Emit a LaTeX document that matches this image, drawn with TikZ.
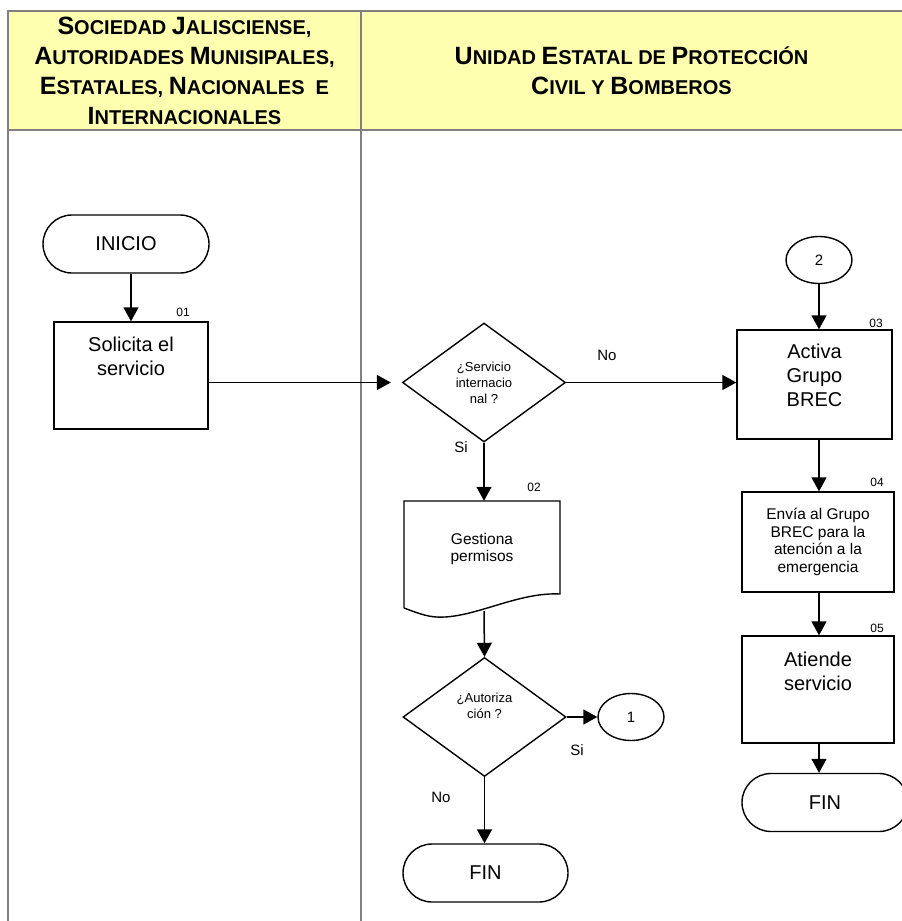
\documentclass[tikz,border=0pt]{standalone}
\usepackage{fontspec}
\setmainfont{Liberation Sans}
\usetikzlibrary{shapes.geometric,shapes.misc,arrows.meta}
\definecolor{hdr}{RGB}{255,255,176}
\definecolor{gridc}{RGB}{128,128,128}
\newcommand\BL[1]{{\fontsize{25}{30}\selectfont #1}}
\begin{document}
\begin{tikzpicture}[x=1pt,y=-1pt,
  lane/.style={draw=gridc,line width=2pt},
  box/.style={draw,line width=1.4pt,inner sep=0pt},
  term/.style={draw,rounded rectangle,line width=1.4pt,minimum width=166pt,minimum height=58pt,inner sep=0pt,font=\fontsize{20}{24}\selectfont},
  dec/.style={draw,diamond,line width=1.4pt,minimum width=163pt,minimum height=119pt,inner sep=0pt,align=center,font=\fontsize{13}{16}\selectfont},
  conn/.style={draw,ellipse,line width=1.4pt,minimum width=66pt,minimum height=47pt,inner sep=0pt,font=\fontsize{15}{18}\selectfont},
  bigtxt/.style={align=center,font=\fontsize{20}{24}\selectfont,anchor=north,inner sep=0pt},
  smalltxt/.style={align=center,font=\fontsize{15.5}{17.5}\selectfont,inner sep=0pt},
  num/.style={font=\fontsize{12}{14}\selectfont,inner sep=0pt},
  lbl/.style={font=\fontsize{15}{18}\selectfont,inner sep=0pt},
  arr/.style={line width=1.5pt,-{Triangle[length=14pt,width=15pt]}},
  hdrtxt/.style={align=center,font=\fontsize{20}{30}\selectfont\bfseries,inner sep=0pt}]
\useasboundingbox (0,0) rectangle (902,921);
% lanes
\fill[hdr] (8,11) rectangle (910,130);
\draw[lane] (910,11) -- (8,11) -- (8,925);
\draw[lane] (361,11) -- (361,925);
\draw[lane] (8,130) -- (910,130);
\node[hdrtxt] (h1) at (184.5,71) {\BL{S}OCIEDAD \BL{J}ALISCIENSE,\\ \BL{A}UTORIDADES \BL{M}UNISIPALES,\\ \BL{E}STATALES, \BL{N}ACIONALES\ \ E\\ \BL{I}NTERNACIONALES};
\node[hdrtxt] (h2) at (631.5,71) {\BL{U}NIDAD \BL{E}STATAL DE \BL{P}ROTECCIÓN\\ \BL{C}IVIL Y \BL{B}OMBEROS};
% nodes
\node[term] (ini) at (126,244) {INICIO};
\node[box,minimum width=154pt,minimum height=107pt] (b1) at (131,375.5) {};
\node[bigtxt] (t1) at ([yshift=-16pt]b1.north) {Solicita el\\servicio};
\node[num] (n1) at (183,312) {01};
\node[dec] (d1) at (484,382.5) {¿Servicio\\internacio\\nal ?};
\node[conn] (c2) at (819,260) {2};
\node[box,minimum width=155pt,minimum height=109pt] (b3) at (814.5,384.5) {};
\node[bigtxt] (t3) at ([yshift=-15pt]b3.north) {Activa\\Grupo\\BREC};
\node[num] (n3) at (876,323) {03};
\node[box,minimum width=152pt,minimum height=100pt] (b4) at (818,542) {};
\node[smalltxt] (t4) at (b4) {Envía al Grupo\\BREC para la\\atención a la\\emergencia};
\node[num] (n4) at (877,482) {04};
\node[box,minimum width=152pt,minimum height=107pt] (b5) at (818,689.5) {};
\node[bigtxt] (t5) at ([yshift=-16pt]b5.north) {Atiende\\servicio};
\node[num] (n5) at (877,628) {05};
\node[term] (fin2) at (825,802.5) {FIN};
% document
\node[minimum width=156pt,minimum height=107pt,inner sep=0pt] (doc) at (482,554.5) {};
\draw[line width=1.4pt] (404,608) -- (404,501) -- (560,501) -- (560,594)
  .. controls (520,592) and (480,615) .. (445,617)
  .. controls (430,618) and (420,614) .. (404,608);
\coordinate (docb) at (484,611);
\node[smalltxt,anchor=north] (t2) at ([yshift=-32pt]doc.north) {Gestiona\\permisos};
\node[num] (n2) at (534,487) {02};
\node[dec] (d3) at (484.5,717) {¿Autoriza\\ción ?\\[6pt]};
\node[conn] (c1) at (631,717) {1};
\node[term,minimum width=165pt] (fin1) at (485.5,873) {FIN};
% labels
\node[lbl] (l1) at (607,355) {No};
\node[lbl] (l2) at (461,447) {Si};
\node[lbl] (l3) at (577,750) {Si};
\node[lbl] (l4) at (441,797) {No};
% connectors
\draw[arr] (b1.north |- ini.south) -- (b1.north);
\draw[arr] (b1.east |- d1.west) -- ([xshift=-11pt]d1.west);
\draw[arr] (d1.east) -- (b3.west |- d1.east);
\draw[arr] (d1.south) -- (d1.south |- doc.north);
\draw[arr] (docb) -- (d3.north);
\draw[arr] (d3.east) -- (c1.west);
\draw[arr] (d3.south) -- (d3.south |- fin1.north);
\draw[arr] (c2.south) -- (c2.south |- b3.north);
\draw[arr] (c2.south |- b3.south) -- (c2.south |- b4.north);
\draw[arr] (c2.south |- b4.south) -- (c2.south |- b5.north);
\draw[arr] (c2.south |- b5.south) -- (c2.south |- fin2.north);
\end{tikzpicture}
\end{document}
